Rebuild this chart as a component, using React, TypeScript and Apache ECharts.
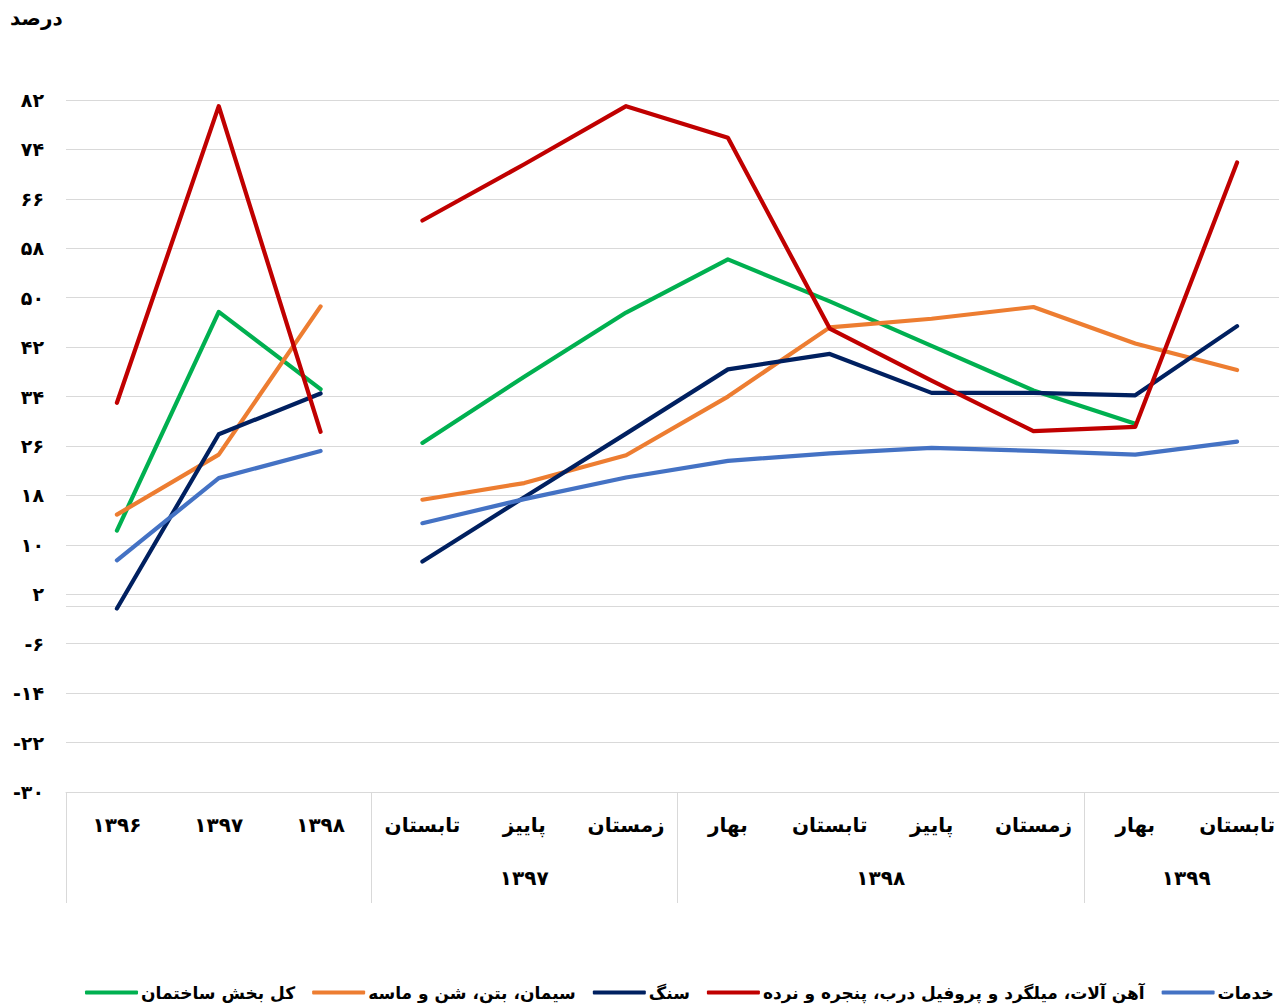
import React, { useEffect, useRef } from 'react';
import * as echarts from 'echarts';

const categories = ['۱۳۹۶', '۱۳۹۷', '۱۳۹۸', 'تابستان', 'پاییز', 'زمستان', 'بهار', 'تابستان', 'پاییز', 'زمستان', 'بهار', 'تابستان'];
const yearGroupLabels = ['', '۱۳۹۷', '۱۳۹۸', '۱۳۹۹'];
const yearGroupBounds = [0, 3, 6, 10, 12];
const persianDigits = ['۰', '۱', '۲', '۳', '۴', '۵', '۶', '۷', '۸', '۹'];

const seriesNames = [
  'کل بخش ساختمان',
  'سیمان، بتن، شن و ماسه',
  'سنگ',
  'آهن آلات، میلگرد و پروفیل درب، پنجره و نرده',
  'خدمات',
];
const seriesColors = ['#00B050', '#ED7D31', '#002060', '#C00000', '#4472C4'];

// annual values: 1396, 1397, 1398
const totalAnnual = [12.3, 47.7, 35.2];
const cementAnnual = [14.9, 24.6, 48.6];
const stoneAnnual = [-0.3, 27.9, 34.5];
const ironAnnual = [33.0, 81.0, 28.3];
const servicesAnnual = [7.5, 20.8, 25.2];

// quarterly values: تابستان ۹۷ ... تابستان ۹۹
const totalQuarterly = [26.5, 37.2, 47.6, 56.2, 49.4, 42.2, 35.0, 29.6, null];
const cementQuarterly = [17.3, 20.0, 24.5, 34.0, 45.2, 46.6, 48.5, 42.6, 38.3];
const stoneQuarterly = [7.3, 17.7, 28.0, 38.4, 40.9, 34.6, 34.6, 34.2, 45.4];
const ironQuarterly = [62.5, 71.6, 81.0, 75.9, 45.0, 36.6, 28.4, 29.1, 71.9];
const servicesQuarterly = [13.5, 17.4, 20.9, 23.6, 24.8, 25.7, 25.2, 24.6, 26.7];

const annualSets = [totalAnnual, cementAnnual, stoneAnnual, ironAnnual, servicesAnnual];
const quarterlySets = [totalQuarterly, cementQuarterly, stoneQuarterly, ironQuarterly, servicesQuarterly];

const FONT = 'DejaVu Sans';

function toPersian(v: number): string {
  const s = String(Math.abs(v)).split('').map((c) => persianDigits[Number(c)] ?? c).join('');
  return v < 0 ? '-' + s : s;
}

export default function App() {
  const ref = useRef<HTMLDivElement>(null);

  useEffect(() => {
    if (!ref.current) return;
    const chart = echarts.init(ref.current, null, { renderer: 'svg' });

    const n = categories.length;
    const annualCount = annualSets[0].length;
    const groupAxisData: string[] = new Array(n * 2 + 1).fill('');
    yearGroupLabels.forEach((lab, i) => {
      groupAxisData[yearGroupBounds[i] + yearGroupBounds[i + 1]] = lab;
    });
    const groupTickIdx = yearGroupBounds.slice(0, -1);

    const series: any[] = [];
    seriesNames.forEach((name, i) => {
      const annual = categories.map((_, k) => (k < annualCount ? annualSets[i][k] : '-'));
      const quarterly = categories.map((_, k) => {
        if (k < annualCount) return '-';
        const v = quarterlySets[i][k - annualCount];
        return v === null || v === undefined ? '-' : v;
      });
      const common = {
        type: 'line',
        name,
        symbol: 'none',
        color: seriesColors[i],
        lineStyle: { width: 4.2, color: seriesColors[i], cap: 'round', join: 'round' },
        xAxisIndex: 0,
        yAxisIndex: 0,
      };
      series.push({
        ...common,
        data: annual,
        ...(i === 0
          ? {
              markLine: {
                silent: true,
                symbol: 'none',
                z: 1,
                label: { show: false },
                lineStyle: { color: '#d9d9d9', width: 1, type: 'solid' },
                data: [{ yAxis: 0 }],
              },
            }
          : {}),
      });
      series.push({ ...common, data: quarterly });
    });

    chart.setOption({
      animation: false,
      backgroundColor: '#ffffff',
      textStyle: { fontFamily: FONT },
      title: {
        text: 'درصد',
        left: 5,
        top: 3,
        textStyle: { fontFamily: FONT, fontSize: 20, fontWeight: 'bold', color: '#000' },
      },
      grid: { left: 66, right: 12, top: 100, bottom: 213, containLabel: false },
      legend: {
        data: seriesNames,
        left: 80,
        top: 979,
        itemWidth: 53,
        itemHeight: 4,
        itemGap: 17,
        icon: 'roundRect',
        textStyle: { fontFamily: FONT, fontSize: 17, fontWeight: 'bold', color: '#000', padding: [0, 0, 0, -2] },
      },
      xAxis: [
        {
          type: 'category',
          data: categories,
          position: 'bottom',
          boundaryGap: true,
          axisLine: { show: true, onZero: false, lineStyle: { color: '#d9d9d9', width: 1 } },
          axisTick: {
            show: true,
            length: 111,
            interval: (index: number) => groupTickIdx.includes(index),
            lineStyle: { color: '#d9d9d9', width: 1 },
          },
          axisLabel: {
            interval: 0,
            margin: 23,
            fontFamily: FONT,
            fontSize: 20,
            fontWeight: 'bold',
            color: '#000',
          },
          splitLine: { show: false },
        },
        {
          type: 'category',
          data: groupAxisData,
          position: 'bottom',
          boundaryGap: false,
          axisLine: { show: false },
          axisTick: { show: false },
          axisLabel: {
            interval: 0,
            margin: 76,
            fontFamily: FONT,
            fontSize: 20,
            fontWeight: 'bold',
            color: '#000',
          },
          splitLine: { show: false },
        },
      ],
      yAxis: {
        type: 'value',
        min: -30,
        max: 82,
        interval: 8,
        axisLine: { show: false },
        axisTick: { show: false },
        axisLabel: {
          margin: 22,
          fontFamily: FONT,
          fontSize: 19,
          fontWeight: 'bold',
          color: '#000',
          formatter: (v: number) => toPersian(v),
        },
        splitLine: { show: true, lineStyle: { color: '#d9d9d9', width: 1 } },
      },
      series,
    });

    return () => chart.dispose();
  }, []);

  return (
    <div style={{ position: 'fixed', left: 0, top: 0, width: 1279, height: 1005, overflow: 'hidden', background: '#fff' }}>
      <div ref={ref} style={{ width: 1300, height: 1005 }} />
    </div>
  );
}
